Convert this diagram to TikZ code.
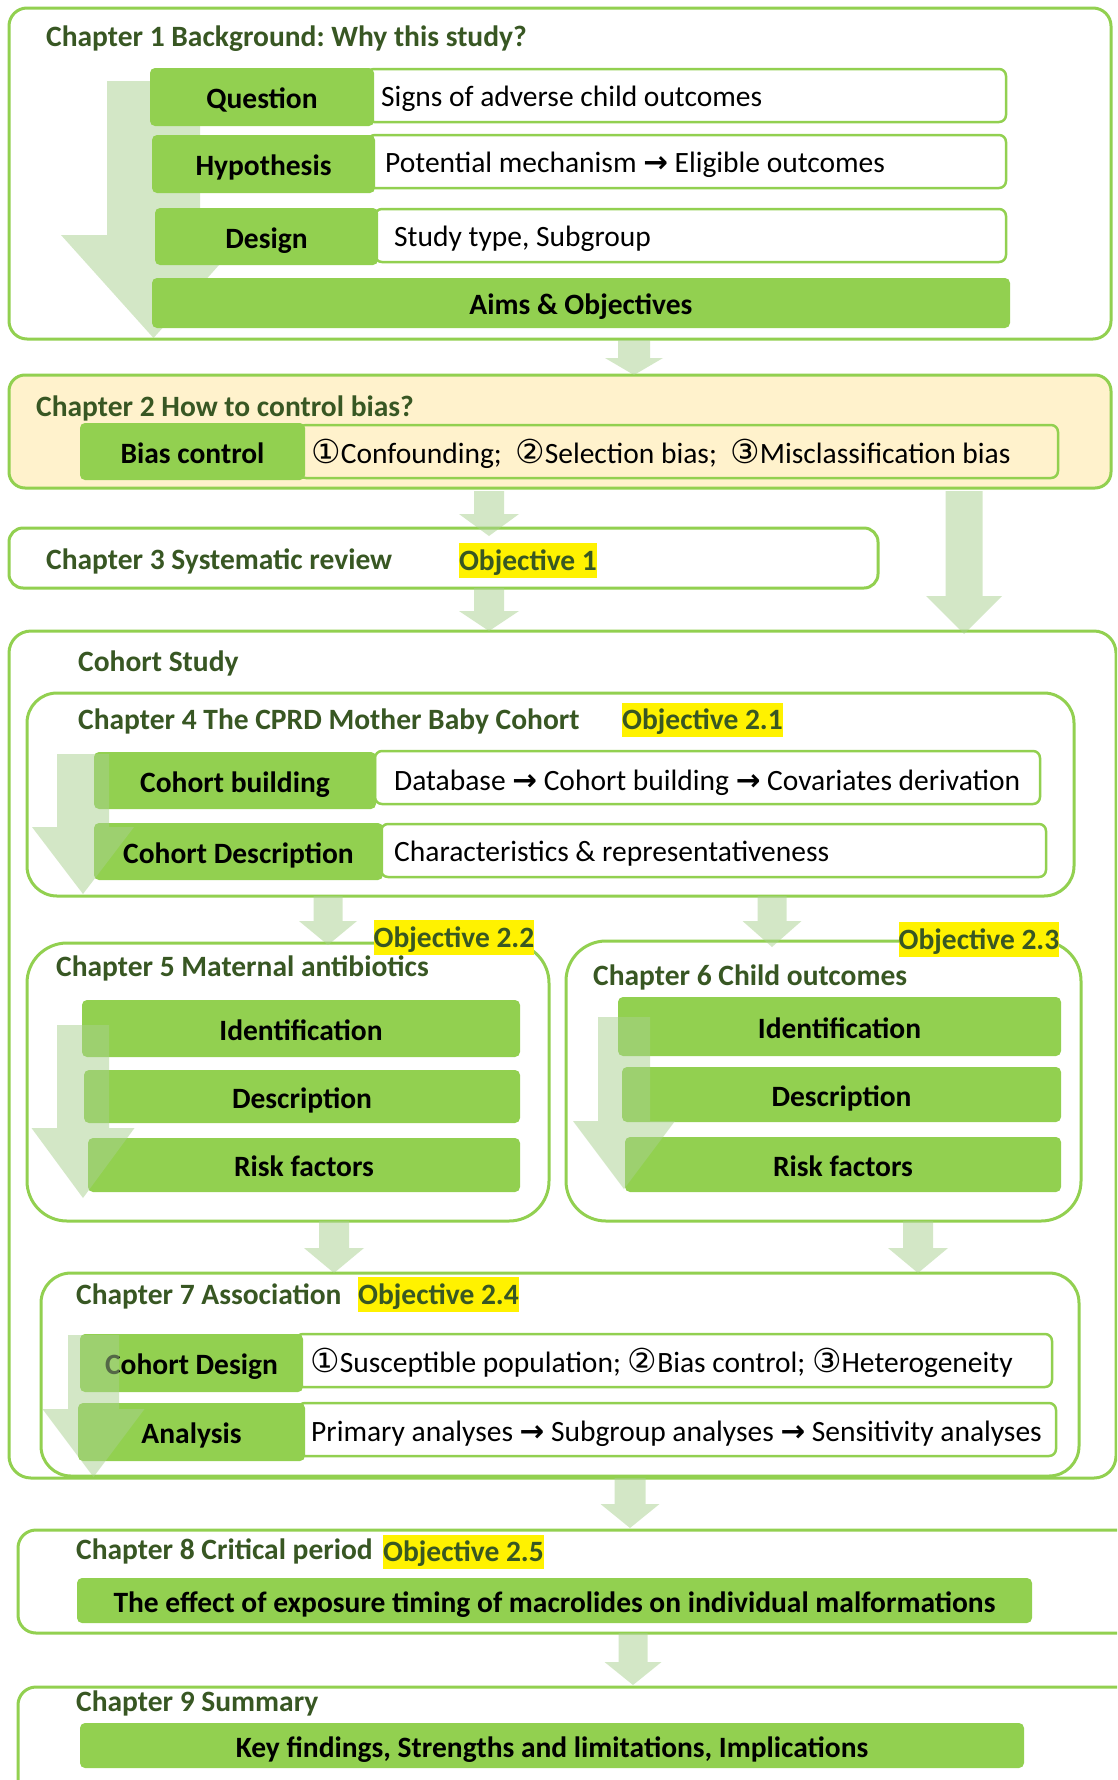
\documentclass[tikz,border=0pt]{standalone}
\usepackage{fontspec}
\setmainfont{Carlito}
\newfontfamily\symf{DejaVu Sans}
\frenchspacing
\definecolor{gr}{HTML}{92D050}
\definecolor{dkg}{HTML}{385723}
\definecolor{ar}{HTML}{A9D18E}
\definecolor{cream}{HTML}{FFF2CC}
\newcommand\chtfont{\fontsize{29.5}{34}\selectfont\bfseries}
\newcommand\lblfont{\fontsize{29.5}{34}\selectfont\bfseries}
\newcommand\bodyfont{\fontsize{29.5}{34}\selectfont}
\newcommand\circd[1]{{\symf\fontsize{33}{34}\selectfont #1}}
\newcommand\rarr{{\symf\bfseries →}}
\newcommand\blkarrow[7]{%
  \fill[#1] ({#2-#5/2},#3) -- ({#2+#5/2},#3) -- ({#2+#5/2},{#4-#7}) -- ({#2+#6/2},{#4-#7}) -- (#2,#4) -- ({#2-#6/2},{#4-#7}) -- ({#2-#5/2},{#4-#7}) -- cycle;}
\tikzset{
  frm/.style={draw=gr, line width=3pt, rounded corners=#1, inner sep=0pt, outer sep=0pt},
  frm/.default=18pt,
  gbx/.style={fill=gr, rounded corners=5pt, inner sep=0pt, font=\lblfont, text height=23pt, text depth=0pt},
  wbx/.style={draw=gr, line width=2.5pt, rounded corners=7pt, inner sep=0pt, fill=white},
  ttl/.style={anchor=west, text=dkg, font=\chtfont, inner sep=0pt, text height=19pt, text depth=0pt},
  txt/.style={anchor=west, font=\bodyfont, inner sep=0pt, text height=19pt, text depth=0pt},
  obj/.style={fill=yellow, text=dkg, font=\chtfont, inner sep=0pt, text height=19pt, text depth=0pt},
  arw/.style={fill=ar, fill opacity=.5},
}
\begin{document}
\begin{tikzpicture}[x=1pt,y=-1pt]
\useasboundingbox (0,0) rectangle (1117,1780);
\clip (0,0) rectangle (1117,1780);
\fill[white] (0,0) rectangle (1117,1780);
% frames
\node[frm=18pt, minimum width=1102pt, minimum height=331pt] (ch1) at (560,173.5) {};
\node[frm=16pt, fill=cream, minimum width=1102pt, minimum height=113pt] (ch2) at (560,431.5) {};
\node[frm=14pt, minimum width=869pt, minimum height=60pt] (ch3) at (443.5,558) {};
\node[frm=22pt, minimum width=1107pt, minimum height=847pt] (coh) at (562.5,1054.5) {};
\node[frm=30pt, minimum width=1047pt, minimum height=203pt] (ch4) at (550.5,794.5) {};
\node[frm=40pt, minimum width=522pt, minimum height=278pt] (ch5) at (288,1082) {};
\node[frm=40pt, minimum width=515pt, minimum height=280pt] (ch6) at (823.5,1081) {};
\node[frm=30pt, minimum width=1038pt, minimum height=203pt] (ch7) at (560,1374.5) {};
\node[frm=18pt, minimum width=1132pt, minimum height=103pt] (ch8) at (584,1581.5) {};
\node[frm=18pt, minimum width=1132pt, minimum height=133pt] (ch9) at (584,1753.5) {};
% chapter 1 arrow (behind boxes)
\blkarrow{arw}{153.5}{81}{338}{93}{185}{103}
% chapter 1 boxes
\node[wbx, minimum width=639pt, minimum height=53pt] (qw) at (686.5,95.5) {};
\node[gbx, minimum width=224pt, minimum height=58pt] (q) at (262,97) {Question};
\node[wbx, minimum width=638pt, minimum height=53pt] (hw) at (687,161.5) {};
\node[gbx, minimum width=223pt, minimum height=58pt] (h) at (263.5,164) {Hypothesis};
\node[wbx, minimum width=631pt, minimum height=53pt] (dw) at (690.5,235.5) {};
\node[gbx, minimum width=223pt, minimum height=57pt] (d) at (266.5,236.5) {Design};
\node[gbx, minimum width=858pt, minimum height=50pt] (aims) at (581,303) {Aims \& Objectives};
% chapter 2 boxes
\node[wbx, fill=none, minimum width=759pt, minimum height=53pt] (bw) at (678.5,451.5) {};
\node[gbx, minimum width=225pt, minimum height=57pt] (b) at (192.5,451.5) {Bias control};
% chapter 4 boxes
\node[wbx, minimum width=665pt, minimum height=53pt] (cbw) at (707.5,777.5) {};
\node[gbx, minimum width=282pt, minimum height=57pt] (cb) at (235,780.5) {Cohort building};
\node[wbx, minimum width=665pt, minimum height=53pt] (cdw) at (713.5,850.5) {};
\node[gbx, minimum width=289pt, minimum height=57pt] (cd) at (238.5,851.5) {Cohort Description};
% chapter 5 boxes
\node[gbx, minimum width=438pt, minimum height=57pt] (id5) at (301,1028.5) {Identification};
\node[gbx, minimum width=436pt, minimum height=53pt] (de5) at (302,1096.5) {Description};
\node[gbx, minimum width=432pt, minimum height=54pt] (rf5) at (304,1165) {Risk factors};
% chapter 6 boxes
\node[gbx, minimum width=443pt, minimum height=59pt] (id6) at (839.5,1026.5) {Identification};
\node[gbx, minimum width=439pt, minimum height=55pt] (de6) at (841.5,1094.5) {Description};
\node[gbx, minimum width=436pt, minimum height=55pt] (rf6) at (843,1164.5) {Risk factors};
% chapter 7 boxes
\node[wbx, minimum width=756pt, minimum height=53pt] (cdsw) at (674,1360.5) {};
\node[gbx, minimum width=223pt, minimum height=58pt] (cds) at (191.5,1363) {Cohort Design};
\node[wbx, minimum width=758pt, minimum height=53pt] (anw) at (677,1429.5) {};
\node[gbx, minimum width=227pt, minimum height=58pt] (an) at (191.5,1432) {Analysis};
% chapter 8, 9 boxes
\node[gbx, minimum width=955pt, minimum height=45pt] (c8) at (554.5,1600.5) {The effect of exposure timing of macrolides on individual malformations};
\node[gbx, minimum width=944pt, minimum height=45pt] (c9) at (552,1745.5) {Key findings, Strengths and limitations, Implications};
% texts
\node[ttl] (t1) at (46,37) {Chapter 1 Background: Why this study?};
\node[txt] (q2) at (381,97) {Signs of adverse child outcomes};
\node[txt] (h2) at (385,163) {Potential mechanism \rarr{} Eligible outcomes};
\node[txt] (d2) at (394,237) {Study type, Subgroup};
\node[ttl] (t2) at (36,407) {Chapter 2 How to control bias?};
\node[txt] (b2) at (311,454) {\circd{①}Confounding;\ \ \circd{②}Selection bias;\ \ \circd{③}Misclassification bias};
\node[ttl] (t3) at (46,560) {Chapter 3 Systematic review};
\node[obj, minimum width=138pt, minimum height=35pt] (o1) at (528,560.5) {Objective 1};
\node[ttl] (tc) at (78,662) {Cohort Study};
\node[ttl] (t4) at (78,720) {Chapter 4 The CPRD Mother Baby Cohort};
\node[obj, minimum width=161pt, minimum height=34pt] (o21) at (702.5,720) {Objective 2.1};
\node[txt] (cb2) at (394,781) {Database \rarr{} Cohort building \rarr{} Covariates derivation};
\node[txt] (cd2) at (394,852) {Characteristics \& representativeness};
\node[ttl] (t5) at (56,967) {Chapter 5 Maternal antibiotics};
\node[obj, minimum width=160pt, minimum height=35pt] (o22) at (454,937.5) {Objective 2.2};
\node[ttl] (t6) at (593,976) {Chapter 6 Child outcomes};
\node[obj, minimum width=160pt, minimum height=35pt] (o23) at (979,939.5) {Objective 2.3};
\node[ttl] (t7) at (76,1295) {Chapter 7 Association};
\node[obj, minimum width=161pt, minimum height=35pt] (o24) at (438.5,1294.5) {Objective 2.4};
\node[txt] (cds2) at (310,1363) {\circd{①}Susceptible population; \circd{②}Bias control; \circd{③}Heterogeneity};
\node[txt] (an2) at (311,1432) {Primary analyses \rarr{} Subgroup analyses \rarr{} Sensitivity analyses};
\node[ttl] (t8) at (76,1550) {Chapter 8 Critical period};
\node[obj, minimum width=161pt, minimum height=34pt] (o25) at (463.5,1552) {Objective 2.5};
\node[ttl] (t9) at (76,1702) {Chapter 9 Summary};
% overlay arrows inside chapters
\blkarrow{arw}{83}{754}{894}{52}{102}{67}
\blkarrow{arw}{83}{1025}{1198}{52}{103}{70}
\blkarrow{arw}{624}{1017}{1189}{52}{102}{68}
\blkarrow{arw}{93.5}{1335}{1477}{51}{102}{68}
% arrows between chapters
\blkarrow{arw}{634}{340}{375}{32}{58}{17}
\blkarrow{arw}{489}{491}{536}{30}{60}{22}
\blkarrow{arw}{489}{588}{631}{30}{60}{20}
\blkarrow{arw}{964}{491}{634}{37}{76}{38}
\blkarrow{arw}{328}{896}{945}{29}{58}{24}
\blkarrow{arw}{772}{896}{947}{29}{59}{26}
\blkarrow{arw}{334}{1221}{1273}{30}{60}{25}
\blkarrow{arw}{918}{1221}{1273}{30}{60}{25}
\blkarrow{arw}{630}{1478}{1528}{31}{59}{24}
\blkarrow{arw}{633}{1633}{1685}{29}{57}{23}
\end{tikzpicture}
\end{document}
